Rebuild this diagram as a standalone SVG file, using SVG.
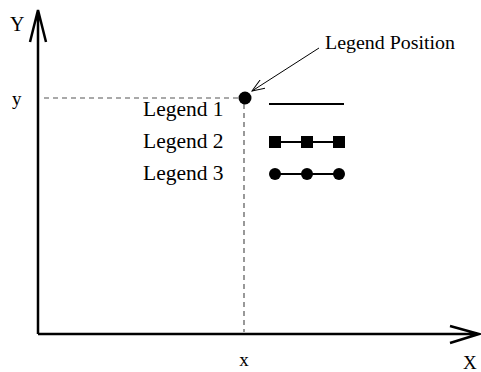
<svg xmlns="http://www.w3.org/2000/svg" width="481" height="372" viewBox="0 0 481 372">
<style>
text{font-family:"Liberation Serif","Times New Roman",serif;fill:#000}
.ax{stroke:#000;stroke-width:2.5;fill:none}
.dash{stroke:#555;stroke-width:1.2;stroke-dasharray:5,4;fill:none}
.leg{font-size:21.5px}
</style>
<defs>
<marker id="ah" markerWidth="14" markerHeight="10" refX="13" refY="5" orient="auto" markerUnits="userSpaceOnUse">
<path d="M0,0 L13,5 L0,10" fill="none" stroke="#000" stroke-width="1"/>
</marker>
</defs>
<g id="axes">
<path class="ax" d="M38,334 L38,12 M30,42 L38,10 L46,42"/>
<path class="ax" d="M38,334 L479,334 M450,326 L479,334 L450,343"/>
<text x="10" y="31" font-size="20">Y</text>
<text x="463" y="369" font-size="19">X</text>
<text x="12" y="105" font-size="19">y</text>
<text x="244" y="366" font-size="19" text-anchor="middle">x</text>
</g>
<g id="guides">
<path class="dash" d="M44,98 L240,98"/>
<path class="dash" d="M244,104 L244,332"/>
</g>
<g id="legend-position">
<circle cx="245" cy="98" r="6.5" fill="#000"/>
<text x="325" y="49" font-size="19" textLength="130" lengthAdjust="spacingAndGlyphs">Legend Position</text>
</g>
<g id="connectors">
<path d="M319,48 L252,91" stroke="#000" stroke-width="1" fill="none" marker-end="url(#ah)"/>
</g>
<g id="legend1">
<text class="leg" x="143" y="116">Legend 1</text>
<path d="M269,104 L344,104" stroke="#000" stroke-width="2"/>
</g>
<g id="legend2">
<text class="leg" x="143" y="148">Legend 2</text>
<path d="M275,142 L339,142" stroke="#000" stroke-width="2"/>
<rect x="269" y="136" width="12" height="12"/>
<rect x="301" y="136" width="12" height="12"/>
<rect x="333" y="136" width="12" height="12"/>
</g>
<g id="legend3">
<text class="leg" x="143" y="180">Legend 3</text>
<path d="M275,174 L339,174" stroke="#000" stroke-width="2"/>
<circle cx="275" cy="174" r="6"/>
<circle cx="307" cy="174" r="6"/>
<circle cx="339" cy="174" r="6"/>
</g>
</svg>
